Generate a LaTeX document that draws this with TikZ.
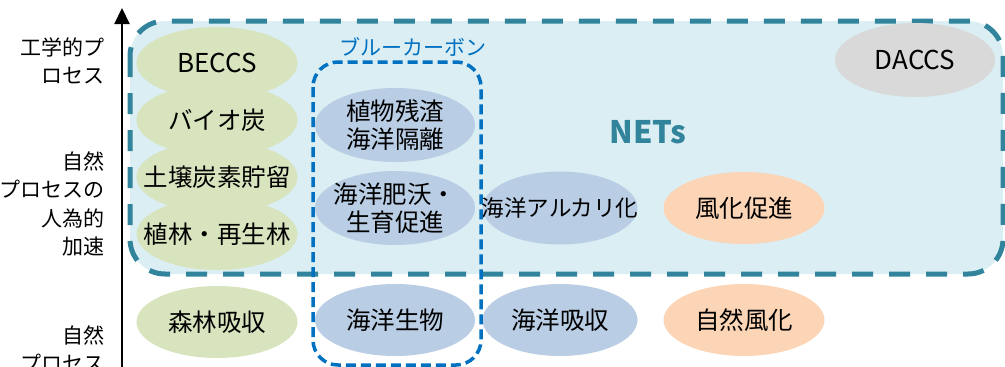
\documentclass[tikz,border=0pt]{standalone}
\usepackage{fontspec}
\setmainfont{Noto Sans CJK JP}
\usetikzlibrary{arrows.meta, shapes.geometric}
\definecolor{cteal}{HTML}{31849B}
\definecolor{cblue}{HTML}{0070C0}
\definecolor{lightcyan}{HTML}{DAEEF3}
\definecolor{cgreen}{HTML}{D7E4BD}
\definecolor{cocean}{HTML}{B9CDE5}
\definecolor{corange}{HTML}{FBD5B5}
\definecolor{cgray}{HTML}{D9D9D9}

\begin{document}
\begin{tikzpicture}[x=1pt, y=-1pt,
  tech/.style={ellipse, minimum width=161pt, minimum height=72pt, inner sep=0pt},
  techtext/.style={align=center, inner sep=0pt, font=\fontsize{24.5}{28}\selectfont},
  axislabel/.style={anchor=east, align=right, inner sep=0pt,
    font=\fontsize{21}{28.5}\selectfont}]
  \useasboundingbox (0,0) rectangle (1005,367);
  \clip (0,0) rectangle (1005,367);
  % NETs region
  \draw[cteal, line width=5pt, fill=lightcyan, dash pattern=on 21pt off 16pt,
    rounded corners=35pt] (130,21) rectangle (1003,274);
  \node[font=\fontsize{31}{31}\selectfont\bfseries, text=cteal] (nets) at (648,132) {NETs};
  % land column
  \foreach \nm/\y/\txt in {beccs/63/{\fontsize{26}{28}\selectfont BECCS}, biochar/120/バイオ炭,
      soil/177/土壌炭素貯留, forest/234/植林・再生林, sink/322/森林吸収}{
    \node[tech, fill=cgreen, label={[techtext]center:\txt}] (\nm) at (217,\y) {};
  }
  % ocean columns
  \node[tech, fill=cocean, minimum width=160pt, minimum height=74pt,
    label={[techtext]center:植物残渣\\海洋隔離}] (residue) at (395,125) {};
  \node[tech, fill=cocean, minimum width=160pt, minimum height=74pt,
    label={[techtext]center:海洋肥沃・\\生育促進}] (fertil) at (395,208) {};
  \node[tech, fill=cocean, minimum width=160pt,
    label={[techtext]center:海洋生物}] (biota) at (395,320) {};
  \node[tech, fill=cocean, minimum width=155pt, minimum height=73pt,
    label={[techtext, font=\fontsize{22.5}{26}\selectfont]center:海洋アルカリ化}] (alkal) at (560,208) {};
  \node[tech, fill=cocean, minimum width=155pt,
    label={[techtext]center:海洋吸収}] (uptake) at (560,320) {};
  % weathering
  \node[tech, fill=corange, label={[techtext]center:風化促進}] (ew) at (744,208) {};
  \node[tech, fill=corange, label={[techtext]center:自然風化}] (natw) at (744,320) {};
  \node[tech, fill=cgray, minimum width=160pt, minimum height=74pt,
    label={[techtext, font=\fontsize{26}{28}\selectfont]center:DACCS}] (daccs) at (915,60) {};
  % blue carbon
  \draw[cblue, line width=3.5pt, dash pattern=on 10pt off 5pt, rounded corners=25pt]
    (313,62) rectangle (481,365);
  \node[font=\fontsize{21}{21}\selectfont, text=cblue] (bluec) at (413,47) {ブルーカーボン};
  % axis
  \coordinate (axisbot) at (122,367);
  \coordinate (axistop) at (122,8);
  \draw[line width=2.2pt, -{Triangle[length=16pt, width=15pt]}] (axisbot) -- (axistop);
  \node[axislabel] (eng) at (105,61) {工学的プ\\ロセス};
  \node[axislabel] (accel) at (105,204) {自然\\プロセスの\\人為的\\加速};
  \node[axislabel] (nat) at (105,349) {自然\\プロセス};
\end{tikzpicture}
\end{document}
